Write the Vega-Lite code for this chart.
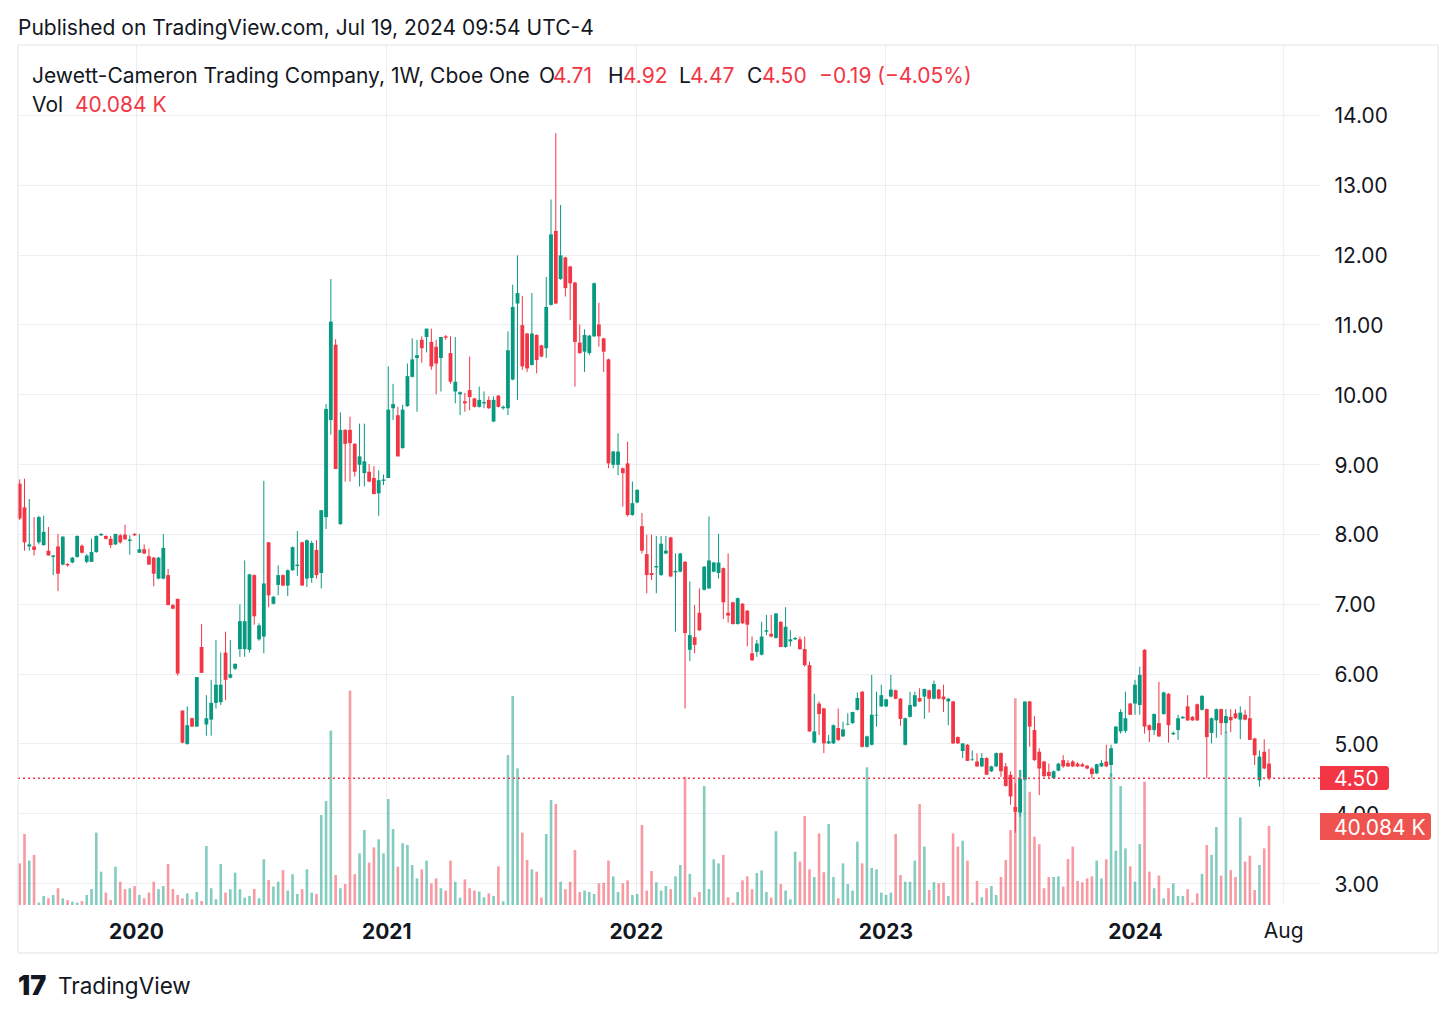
{
  "$schema": "https://vega.github.io/schema/vega-lite/v6.json",
  "width": 1302,
  "height": 860,
  "autosize": "none",
  "padding": {"left": 18, "top": 45, "right": 136, "bottom": 111},
  "background": "white",
  "config": {"view": {"stroke": null}, "font": "Inter", "axis": {"labelFont": "Inter"}, "text": {"font": "Inter"}, "scale": {"continuousPadding": 0}},
  "datasets": {
    "w": [
      {"d":"2019-07-15","o":8.72,"h":8.78,"l":8.20,"c":8.22,"v":21.1},
      {"d":"2019-07-22","o":8.38,"h":8.79,"l":7.76,"c":7.88,"v":36.0},
      {"d":"2019-07-29","o":7.82,"h":8.50,"l":7.76,"c":7.85,"v":22.5},
      {"d":"2019-08-05","o":7.82,"h":8.24,"l":7.69,"c":7.77,"v":25.4},
      {"d":"2019-08-12","o":7.88,"h":8.26,"l":7.85,"c":8.24,"v":1.2},
      {"d":"2019-08-19","o":7.84,"h":8.26,"l":7.83,"c":8.03,"v":4.6},
      {"d":"2019-08-26","o":7.76,"h":8.10,"l":7.69,"c":7.69,"v":3.4},
      {"d":"2019-09-02","o":7.67,"h":7.70,"l":7.41,"c":7.69,"v":5.1},
      {"d":"2019-09-09","o":7.82,"h":8.00,"l":7.18,"c":7.43,"v":8.5},
      {"d":"2019-09-16","o":7.56,"h":7.97,"l":7.55,"c":7.96,"v":3.4},
      {"d":"2019-09-23","o":7.57,"h":7.58,"l":7.53,"c":7.55,"v":2.5},
      {"d":"2019-09-30","o":7.59,"h":7.67,"l":7.58,"c":7.66,"v":1.7},
      {"d":"2019-10-07","o":7.67,"h":7.98,"l":7.66,"c":7.97,"v":1.2},
      {"d":"2019-10-14","o":7.83,"h":7.85,"l":7.72,"c":7.73,"v":2.0},
      {"d":"2019-10-21","o":7.60,"h":7.71,"l":7.58,"c":7.69,"v":5.1},
      {"d":"2019-10-28","o":7.60,"h":7.93,"l":7.60,"c":7.74,"v":8.1},
      {"d":"2019-11-04","o":7.74,"h":7.98,"l":7.73,"c":7.97,"v":36.7},
      {"d":"2019-11-11","o":7.98,"h":8.01,"l":7.97,"c":8.00,"v":16.9},
      {"d":"2019-11-18","o":7.97,"h":7.98,"l":7.92,"c":7.93,"v":6.3},
      {"d":"2019-11-25","o":7.93,"h":7.97,"l":7.80,"c":7.84,"v":2.5},
      {"d":"2019-12-02","o":7.85,"h":8.00,"l":7.84,"c":8.00,"v":19.4},
      {"d":"2019-12-09","o":7.98,"h":8.00,"l":7.86,"c":7.88,"v":11.8},
      {"d":"2019-12-16","o":7.99,"h":8.13,"l":7.92,"c":7.92,"v":8.0},
      {"d":"2019-12-23","o":7.90,"h":7.98,"l":7.70,"c":7.92,"v":8.5},
      {"d":"2019-12-30","o":8.00,"h":8.01,"l":7.97,"c":7.98,"v":9.6},
      {"d":"2020-01-06","o":7.73,"h":8.00,"l":7.73,"c":7.78,"v":5.1},
      {"d":"2020-01-13","o":7.78,"h":7.85,"l":7.71,"c":7.72,"v":3.4},
      {"d":"2020-01-20","o":7.68,"h":7.79,"l":7.56,"c":7.56,"v":6.3},
      {"d":"2020-01-27","o":7.66,"h":7.67,"l":7.25,"c":7.43,"v":11.8},
      {"d":"2020-02-03","o":7.36,"h":7.67,"l":7.35,"c":7.66,"v":8.0},
      {"d":"2020-02-10","o":7.36,"h":8.00,"l":7.35,"c":7.80,"v":9.6},
      {"d":"2020-02-17","o":7.41,"h":7.50,"l":6.98,"c":6.98,"v":20.8},
      {"d":"2020-02-24","o":6.98,"h":7.00,"l":6.92,"c":6.93,"v":8.1},
      {"d":"2020-03-02","o":7.07,"h":7.07,"l":5.97,"c":6.00,"v":5.1},
      {"d":"2020-03-09","o":5.47,"h":5.47,"l":5.00,"c":5.01,"v":3.4},
      {"d":"2020-03-16","o":4.99,"h":5.53,"l":4.98,"c":5.26,"v":5.9},
      {"d":"2020-03-23","o":5.36,"h":5.37,"l":5.24,"c":5.24,"v":2.9},
      {"d":"2020-03-30","o":5.24,"h":5.95,"l":5.24,"c":5.95,"v":6.6},
      {"d":"2020-04-06","o":6.38,"h":6.71,"l":6.01,"c":6.01,"v":2.0},
      {"d":"2020-04-13","o":5.27,"h":5.69,"l":5.11,"c":5.36,"v":29.9},
      {"d":"2020-04-20","o":5.34,"h":5.91,"l":5.11,"c":5.58,"v":8.5},
      {"d":"2020-04-27","o":5.58,"h":6.48,"l":5.50,"c":5.84,"v":2.9},
      {"d":"2020-05-04","o":5.59,"h":6.30,"l":5.55,"c":5.84,"v":20.8},
      {"d":"2020-05-11","o":6.30,"h":6.60,"l":5.62,"c":5.91,"v":6.3},
      {"d":"2020-05-18","o":5.94,"h":6.48,"l":5.93,"c":5.99,"v":8.0},
      {"d":"2020-05-25","o":6.07,"h":6.14,"l":6.05,"c":6.14,"v":16.4},
      {"d":"2020-06-01","o":6.35,"h":6.99,"l":6.24,"c":6.75,"v":8.0},
      {"d":"2020-06-08","o":6.35,"h":7.62,"l":6.24,"c":6.75,"v":3.7},
      {"d":"2020-06-15","o":6.34,"h":7.43,"l":6.30,"c":7.42,"v":4.6},
      {"d":"2020-06-22","o":7.41,"h":7.42,"l":6.70,"c":6.82,"v":8.1},
      {"d":"2020-06-29","o":6.49,"h":6.72,"l":6.47,"c":6.69,"v":3.4},
      {"d":"2020-07-06","o":6.53,"h":8.76,"l":6.29,"c":7.29,"v":23.2},
      {"d":"2020-07-13","o":7.88,"h":7.88,"l":6.95,"c":7.12,"v":12.7},
      {"d":"2020-07-20","o":7.00,"h":7.11,"l":6.99,"c":7.10,"v":9.3},
      {"d":"2020-07-27","o":7.27,"h":7.55,"l":7.12,"c":7.41,"v":11.8},
      {"d":"2020-08-03","o":7.41,"h":7.42,"l":7.25,"c":7.26,"v":17.7},
      {"d":"2020-08-10","o":7.26,"h":7.49,"l":7.11,"c":7.48,"v":7.3},
      {"d":"2020-08-17","o":7.48,"h":7.82,"l":7.47,"c":7.81,"v":15.6},
      {"d":"2020-08-24","o":7.54,"h":8.04,"l":7.40,"c":7.56,"v":5.6},
      {"d":"2020-08-31","o":7.88,"h":7.89,"l":7.26,"c":7.26,"v":8.0},
      {"d":"2020-09-07","o":7.36,"h":7.92,"l":7.24,"c":7.91,"v":18.1},
      {"d":"2020-09-14","o":7.37,"h":7.90,"l":7.30,"c":7.87,"v":6.3},
      {"d":"2020-09-21","o":7.77,"h":7.91,"l":7.36,"c":7.41,"v":5.6},
      {"d":"2020-09-28","o":7.44,"h":8.34,"l":7.22,"c":8.34,"v":45.6},
      {"d":"2020-10-05","o":8.24,"h":9.86,"l":8.07,"c":9.79,"v":52.7},
      {"d":"2020-10-12","o":9.63,"h":11.65,"l":9.42,"c":11.04,"v":88.4},
      {"d":"2020-10-19","o":10.71,"h":10.79,"l":8.93,"c":8.93,"v":15.2},
      {"d":"2020-10-26","o":8.14,"h":9.74,"l":8.13,"c":9.49,"v":8.5},
      {"d":"2020-11-02","o":9.49,"h":9.50,"l":8.75,"c":9.29,"v":10.6},
      {"d":"2020-11-09","o":9.49,"h":9.68,"l":8.75,"c":9.30,"v":108.7},
      {"d":"2020-11-16","o":9.29,"h":9.30,"l":8.82,"c":8.89,"v":15.6},
      {"d":"2020-11-23","o":8.99,"h":9.58,"l":8.68,"c":9.11,"v":26.2},
      {"d":"2020-11-30","o":8.87,"h":9.58,"l":8.68,"c":9.04,"v":38.0},
      {"d":"2020-12-07","o":8.89,"h":9.00,"l":8.74,"c":8.75,"v":21.5},
      {"d":"2020-12-14","o":8.80,"h":8.97,"l":8.57,"c":8.57,"v":29.2},
      {"d":"2020-12-21","o":8.58,"h":8.91,"l":8.26,"c":8.77,"v":33.3},
      {"d":"2020-12-28","o":8.76,"h":8.85,"l":8.70,"c":8.78,"v":26.2},
      {"d":"2021-01-04","o":8.80,"h":10.40,"l":8.80,"c":9.78,"v":53.7},
      {"d":"2021-01-11","o":9.80,"h":10.15,"l":9.63,"c":9.86,"v":38.5},
      {"d":"2021-01-18","o":9.70,"h":9.82,"l":9.11,"c":9.11,"v":19.4},
      {"d":"2021-01-25","o":9.23,"h":9.85,"l":9.22,"c":9.78,"v":31.3},
      {"d":"2021-02-01","o":9.83,"h":10.44,"l":9.82,"c":10.26,"v":30.4},
      {"d":"2021-02-08","o":10.25,"h":10.80,"l":10.24,"c":10.50,"v":20.3},
      {"d":"2021-02-15","o":10.52,"h":10.78,"l":9.75,"c":10.56,"v":13.5},
      {"d":"2021-02-22","o":10.78,"h":10.83,"l":10.45,"c":10.66,"v":18.1},
      {"d":"2021-03-01","o":10.82,"h":10.94,"l":10.60,"c":10.94,"v":22.5},
      {"d":"2021-03-08","o":10.75,"h":10.94,"l":10.35,"c":10.40,"v":11.0},
      {"d":"2021-03-15","o":10.68,"h":10.78,"l":10.00,"c":10.44,"v":13.5},
      {"d":"2021-03-22","o":10.52,"h":10.82,"l":10.04,"c":10.82,"v":8.5},
      {"d":"2021-03-29","o":10.83,"h":10.85,"l":10.78,"c":10.81,"v":7.3},
      {"d":"2021-04-05","o":10.59,"h":10.83,"l":10.15,"c":10.18,"v":22.5},
      {"d":"2021-04-12","o":10.04,"h":10.82,"l":9.87,"c":10.18,"v":11.8},
      {"d":"2021-04-19","o":10.00,"h":10.04,"l":9.70,"c":10.03,"v":3.7},
      {"d":"2021-04-26","o":9.90,"h":10.02,"l":9.75,"c":9.87,"v":13.0},
      {"d":"2021-05-03","o":10.06,"h":10.54,"l":9.77,"c":9.96,"v":8.5},
      {"d":"2021-05-10","o":9.94,"h":9.95,"l":9.81,"c":9.82,"v":7.3},
      {"d":"2021-05-17","o":9.82,"h":10.11,"l":9.81,"c":9.92,"v":6.8},
      {"d":"2021-05-24","o":9.87,"h":10.04,"l":9.80,"c":9.89,"v":3.9},
      {"d":"2021-05-31","o":9.92,"h":9.97,"l":9.79,"c":9.80,"v":5.9},
      {"d":"2021-06-07","o":9.61,"h":9.97,"l":9.60,"c":9.92,"v":4.6},
      {"d":"2021-06-14","o":9.98,"h":9.99,"l":9.81,"c":9.82,"v":19.6},
      {"d":"2021-06-21","o":9.80,"h":9.84,"l":9.78,"c":9.82,"v":1.9},
      {"d":"2021-06-28","o":9.80,"h":10.90,"l":9.70,"c":10.63,"v":76.0},
      {"d":"2021-07-05","o":10.21,"h":11.57,"l":10.20,"c":11.25,"v":106.0},
      {"d":"2021-07-12","o":11.30,"h":11.99,"l":9.92,"c":11.45,"v":69.3},
      {"d":"2021-07-19","o":10.99,"h":11.41,"l":10.35,"c":10.40,"v":36.7},
      {"d":"2021-07-26","o":10.87,"h":10.88,"l":10.32,"c":10.37,"v":22.8},
      {"d":"2021-08-02","o":10.42,"h":11.45,"l":10.41,"c":10.87,"v":18.1},
      {"d":"2021-08-09","o":10.85,"h":10.86,"l":10.30,"c":10.49,"v":16.9},
      {"d":"2021-08-16","o":10.70,"h":10.71,"l":10.53,"c":10.54,"v":3.7},
      {"d":"2021-08-23","o":10.66,"h":11.68,"l":10.52,"c":11.25,"v":36.0},
      {"d":"2021-08-30","o":11.28,"h":12.79,"l":11.27,"c":12.29,"v":53.2},
      {"d":"2021-09-06","o":12.34,"h":13.74,"l":11.29,"c":11.30,"v":51.2},
      {"d":"2021-09-13","o":11.65,"h":12.71,"l":11.64,"c":11.99,"v":11.8},
      {"d":"2021-09-20","o":11.96,"h":11.97,"l":11.40,"c":11.52,"v":8.0},
      {"d":"2021-09-27","o":11.83,"h":11.84,"l":11.06,"c":11.59,"v":11.8},
      {"d":"2021-10-04","o":11.60,"h":11.61,"l":10.11,"c":10.75,"v":27.9},
      {"d":"2021-10-11","o":10.74,"h":11.00,"l":10.58,"c":10.59,"v":6.6},
      {"d":"2021-10-18","o":10.61,"h":10.93,"l":10.32,"c":10.85,"v":7.3},
      {"d":"2021-10-25","o":10.59,"h":10.85,"l":10.56,"c":10.84,"v":6.6},
      {"d":"2021-11-01","o":10.83,"h":11.60,"l":10.82,"c":11.59,"v":5.6},
      {"d":"2021-11-08","o":11.00,"h":11.31,"l":10.68,"c":10.83,"v":11.0},
      {"d":"2021-11-15","o":10.80,"h":10.81,"l":10.32,"c":10.61,"v":11.3},
      {"d":"2021-11-22","o":10.50,"h":10.51,"l":8.94,"c":9.01,"v":22.5},
      {"d":"2021-11-29","o":8.99,"h":9.19,"l":8.94,"c":9.18,"v":14.5},
      {"d":"2021-12-06","o":8.99,"h":9.44,"l":8.84,"c":9.18,"v":6.6},
      {"d":"2021-12-13","o":8.94,"h":8.95,"l":8.39,"c":8.87,"v":11.0},
      {"d":"2021-12-20","o":9.01,"h":9.32,"l":8.25,"c":8.27,"v":12.5},
      {"d":"2021-12-27","o":8.27,"h":8.75,"l":8.26,"c":8.44,"v":5.1},
      {"d":"2022-01-03","o":8.45,"h":8.64,"l":8.44,"c":8.63,"v":5.6},
      {"d":"2022-01-10","o":8.11,"h":8.30,"l":7.72,"c":7.76,"v":40.6},
      {"d":"2022-01-17","o":7.71,"h":7.99,"l":7.15,"c":7.41,"v":7.3},
      {"d":"2022-01-24","o":7.44,"h":7.99,"l":7.34,"c":7.41,"v":17.2},
      {"d":"2022-01-31","o":7.52,"h":7.97,"l":7.15,"c":7.54,"v":11.5},
      {"d":"2022-02-07","o":7.41,"h":7.97,"l":7.40,"c":7.86,"v":7.3},
      {"d":"2022-02-14","o":7.72,"h":7.97,"l":7.71,"c":7.76,"v":9.6},
      {"d":"2022-02-21","o":7.95,"h":7.96,"l":7.38,"c":7.39,"v":8.0},
      {"d":"2022-02-28","o":7.45,"h":7.72,"l":6.60,"c":7.47,"v":14.5},
      {"d":"2022-03-07","o":7.46,"h":7.73,"l":7.45,"c":7.72,"v":20.3},
      {"d":"2022-03-14","o":7.60,"h":7.61,"l":5.50,"c":6.58,"v":65.0},
      {"d":"2022-03-21","o":6.34,"h":7.32,"l":6.18,"c":6.55,"v":15.8},
      {"d":"2022-03-28","o":6.52,"h":6.98,"l":6.29,"c":6.41,"v":3.9},
      {"d":"2022-04-04","o":6.87,"h":7.22,"l":6.61,"c":6.62,"v":6.6},
      {"d":"2022-04-11","o":7.20,"h":7.54,"l":7.19,"c":7.53,"v":60.3},
      {"d":"2022-04-18","o":7.22,"h":8.25,"l":7.21,"c":7.62,"v":8.1},
      {"d":"2022-04-25","o":7.46,"h":7.60,"l":7.45,"c":7.59,"v":23.2},
      {"d":"2022-05-02","o":7.44,"h":8.00,"l":7.36,"c":7.59,"v":21.1},
      {"d":"2022-05-09","o":7.51,"h":7.52,"l":6.78,"c":7.02,"v":25.4},
      {"d":"2022-05-16","o":6.87,"h":7.72,"l":6.73,"c":6.83,"v":3.9},
      {"d":"2022-05-23","o":7.02,"h":7.03,"l":6.70,"c":6.71,"v":1.2},
      {"d":"2022-05-30","o":6.71,"h":7.09,"l":6.70,"c":7.08,"v":6.6},
      {"d":"2022-06-06","o":7.00,"h":7.01,"l":6.71,"c":6.72,"v":12.5},
      {"d":"2022-06-13","o":6.90,"h":6.91,"l":6.39,"c":6.70,"v":14.5},
      {"d":"2022-06-20","o":6.29,"h":6.53,"l":6.18,"c":6.19,"v":8.0},
      {"d":"2022-06-27","o":6.31,"h":6.48,"l":6.24,"c":6.43,"v":16.2},
      {"d":"2022-07-04","o":6.27,"h":6.74,"l":6.26,"c":6.53,"v":17.6},
      {"d":"2022-07-11","o":6.60,"h":6.84,"l":6.55,"c":6.62,"v":6.6},
      {"d":"2022-07-18","o":6.57,"h":6.84,"l":6.52,"c":6.53,"v":3.7},
      {"d":"2022-07-25","o":6.51,"h":6.87,"l":6.50,"c":6.86,"v":37.4},
      {"d":"2022-08-01","o":6.74,"h":6.75,"l":6.38,"c":6.38,"v":10.6},
      {"d":"2022-08-08","o":6.38,"h":6.95,"l":6.37,"c":6.67,"v":7.3},
      {"d":"2022-08-15","o":6.46,"h":6.62,"l":6.39,"c":6.49,"v":2.9},
      {"d":"2022-08-22","o":6.49,"h":6.52,"l":6.48,"c":6.51,"v":27.0},
      {"d":"2022-08-29","o":6.49,"h":6.53,"l":6.34,"c":6.35,"v":22.0},
      {"d":"2022-09-05","o":6.35,"h":6.53,"l":6.10,"c":6.12,"v":45.1},
      {"d":"2022-09-12","o":6.12,"h":6.17,"l":5.17,"c":5.17,"v":18.1},
      {"d":"2022-09-19","o":5.01,"h":5.71,"l":5.00,"c":5.17,"v":14.2},
      {"d":"2022-09-26","o":5.57,"h":5.60,"l":5.12,"c":5.42,"v":36.3},
      {"d":"2022-10-03","o":5.50,"h":5.51,"l":4.86,"c":5.00,"v":16.6},
      {"d":"2022-10-10","o":5.00,"h":5.12,"l":4.99,"c":5.03,"v":41.1},
      {"d":"2022-10-17","o":5.00,"h":5.27,"l":4.99,"c":5.26,"v":14.2},
      {"d":"2022-10-24","o":5.22,"h":5.50,"l":5.03,"c":5.05,"v":3.4},
      {"d":"2022-10-31","o":5.10,"h":5.31,"l":5.09,"c":5.20,"v":21.1},
      {"d":"2022-11-07","o":5.27,"h":5.43,"l":5.26,"c":5.28,"v":10.6},
      {"d":"2022-11-14","o":5.29,"h":5.45,"l":5.28,"c":5.45,"v":7.3},
      {"d":"2022-11-21","o":5.48,"h":5.73,"l":5.47,"c":5.65,"v":32.1},
      {"d":"2022-11-28","o":5.74,"h":5.75,"l":4.94,"c":4.95,"v":21.1},
      {"d":"2022-12-05","o":4.95,"h":5.11,"l":4.94,"c":5.10,"v":69.8},
      {"d":"2022-12-12","o":4.98,"h":5.98,"l":4.97,"c":5.41,"v":18.8},
      {"d":"2022-12-19","o":5.40,"h":5.74,"l":5.24,"c":5.41,"v":18.1},
      {"d":"2022-12-26","o":5.53,"h":5.84,"l":5.52,"c":5.69,"v":6.3},
      {"d":"2023-01-02","o":5.53,"h":5.64,"l":5.52,"c":5.63,"v":5.1},
      {"d":"2023-01-09","o":5.67,"h":5.98,"l":5.66,"c":5.77,"v":6.3},
      {"d":"2023-01-16","o":5.76,"h":5.77,"l":5.63,"c":5.64,"v":36.0},
      {"d":"2023-01-23","o":5.64,"h":5.65,"l":5.25,"c":5.35,"v":15.2},
      {"d":"2023-01-30","o":4.98,"h":5.37,"l":4.97,"c":5.36,"v":11.8},
      {"d":"2023-02-06","o":5.38,"h":5.74,"l":5.37,"c":5.55,"v":11.8},
      {"d":"2023-02-13","o":5.53,"h":5.74,"l":5.52,"c":5.69,"v":22.5},
      {"d":"2023-02-20","o":5.65,"h":5.79,"l":5.59,"c":5.60,"v":51.2},
      {"d":"2023-02-27","o":5.67,"h":5.78,"l":5.35,"c":5.78,"v":29.6},
      {"d":"2023-03-06","o":5.76,"h":5.77,"l":5.44,"c":5.64,"v":7.6},
      {"d":"2023-03-13","o":5.64,"h":5.90,"l":5.63,"c":5.85,"v":11.6},
      {"d":"2023-03-20","o":5.77,"h":5.78,"l":5.63,"c":5.64,"v":11.0},
      {"d":"2023-03-27","o":5.67,"h":5.84,"l":5.45,"c":5.63,"v":11.3},
      {"d":"2023-04-03","o":5.60,"h":5.65,"l":5.26,"c":5.64,"v":4.6},
      {"d":"2023-04-10","o":5.60,"h":5.61,"l":4.99,"c":5.00,"v":36.3},
      {"d":"2023-04-17","o":5.09,"h":5.10,"l":4.99,"c":5.00,"v":29.6},
      {"d":"2023-04-24","o":4.89,"h":5.00,"l":4.79,"c":5.00,"v":32.6},
      {"d":"2023-05-01","o":4.98,"h":4.99,"l":4.75,"c":4.75,"v":22.5},
      {"d":"2023-05-08","o":4.76,"h":4.90,"l":4.75,"c":4.77,"v":1.2},
      {"d":"2023-05-15","o":4.74,"h":4.86,"l":4.66,"c":4.67,"v":12.2},
      {"d":"2023-05-22","o":4.67,"h":4.86,"l":4.66,"c":4.79,"v":3.9},
      {"d":"2023-05-29","o":4.79,"h":4.80,"l":4.55,"c":4.55,"v":8.5},
      {"d":"2023-06-05","o":4.60,"h":4.68,"l":4.59,"c":4.67,"v":9.6},
      {"d":"2023-06-12","o":4.67,"h":4.87,"l":4.66,"c":4.86,"v":5.1},
      {"d":"2023-06-19","o":4.86,"h":4.87,"l":4.52,"c":4.60,"v":14.2},
      {"d":"2023-06-26","o":4.67,"h":4.72,"l":4.38,"c":4.39,"v":22.8},
      {"d":"2023-07-03","o":4.55,"h":4.60,"l":4.12,"c":4.24,"v":38.0},
      {"d":"2023-07-10","o":4.09,"h":4.43,"l":3.72,"c":4.02,"v":104.8},
      {"d":"2023-07-17","o":4.01,"h":4.62,"l":3.95,"c":4.49,"v":68.4},
      {"d":"2023-07-24","o":4.48,"h":5.60,"l":4.47,"c":5.60,"v":63.4},
      {"d":"2023-07-31","o":5.60,"h":5.61,"l":4.95,"c":5.24,"v":57.4},
      {"d":"2023-08-07","o":5.19,"h":5.39,"l":4.75,"c":4.76,"v":34.6},
      {"d":"2023-08-14","o":4.88,"h":4.93,"l":4.26,"c":4.64,"v":30.8},
      {"d":"2023-08-21","o":4.74,"h":4.75,"l":4.52,"c":4.53,"v":8.5},
      {"d":"2023-08-28","o":4.59,"h":4.71,"l":4.50,"c":4.53,"v":14.2},
      {"d":"2023-09-04","o":4.50,"h":4.61,"l":4.49,"c":4.60,"v":14.2},
      {"d":"2023-09-11","o":4.61,"h":4.72,"l":4.60,"c":4.71,"v":14.5},
      {"d":"2023-09-18","o":4.76,"h":4.83,"l":4.65,"c":4.67,"v":9.3},
      {"d":"2023-09-25","o":4.72,"h":4.76,"l":4.66,"c":4.67,"v":23.3},
      {"d":"2023-10-02","o":4.74,"h":4.76,"l":4.66,"c":4.67,"v":29.6},
      {"d":"2023-10-09","o":4.71,"h":4.73,"l":4.66,"c":4.67,"v":12.2},
      {"d":"2023-10-16","o":4.70,"h":4.72,"l":4.66,"c":4.67,"v":11.5},
      {"d":"2023-10-23","o":4.68,"h":4.69,"l":4.63,"c":4.64,"v":13.5},
      {"d":"2023-10-30","o":4.64,"h":4.66,"l":4.50,"c":4.56,"v":14.5},
      {"d":"2023-11-06","o":4.57,"h":4.71,"l":4.56,"c":4.70,"v":22.5},
      {"d":"2023-11-13","o":4.67,"h":4.76,"l":4.66,"c":4.72,"v":13.5},
      {"d":"2023-11-20","o":4.74,"h":4.98,"l":4.66,"c":4.67,"v":23.2},
      {"d":"2023-11-27","o":4.69,"h":4.98,"l":4.52,"c":4.93,"v":66.8},
      {"d":"2023-12-04","o":5.00,"h":5.25,"l":4.99,"c":5.24,"v":27.5},
      {"d":"2023-12-11","o":5.17,"h":5.49,"l":5.14,"c":5.45,"v":60.3},
      {"d":"2023-12-18","o":5.18,"h":5.74,"l":5.15,"c":5.36,"v":28.7},
      {"d":"2023-12-25","o":5.57,"h":5.58,"l":5.41,"c":5.41,"v":19.6},
      {"d":"2024-01-01","o":5.57,"h":5.91,"l":5.41,"c":5.84,"v":11.8},
      {"d":"2024-01-08","o":5.55,"h":6.10,"l":5.41,"c":5.98,"v":30.9},
      {"d":"2024-01-15","o":6.34,"h":6.35,"l":5.14,"c":5.24,"v":62.5},
      {"d":"2024-01-22","o":5.26,"h":5.27,"l":5.02,"c":5.19,"v":16.9},
      {"d":"2024-01-29","o":5.19,"h":5.43,"l":5.12,"c":5.42,"v":8.5},
      {"d":"2024-02-05","o":5.29,"h":5.88,"l":5.09,"c":5.10,"v":14.9},
      {"d":"2024-02-12","o":5.42,"h":5.74,"l":5.41,"c":5.73,"v":3.4},
      {"d":"2024-02-19","o":5.71,"h":5.72,"l":5.01,"c":5.26,"v":8.5},
      {"d":"2024-02-26","o":5.13,"h":5.17,"l":5.12,"c":5.15,"v":11.0},
      {"d":"2024-03-04","o":5.19,"h":5.41,"l":5.05,"c":5.36,"v":4.6},
      {"d":"2024-03-11","o":5.36,"h":5.39,"l":5.35,"c":5.38,"v":4.6},
      {"d":"2024-03-18","o":5.53,"h":5.69,"l":5.32,"c":5.33,"v":8.0},
      {"d":"2024-03-25","o":5.38,"h":5.39,"l":5.32,"c":5.33,"v":1.2},
      {"d":"2024-04-01","o":5.56,"h":5.57,"l":5.32,"c":5.33,"v":5.9},
      {"d":"2024-04-08","o":5.48,"h":5.69,"l":5.47,"c":5.68,"v":15.8},
      {"d":"2024-04-15","o":5.49,"h":5.50,"l":4.50,"c":5.09,"v":30.4},
      {"d":"2024-04-22","o":5.15,"h":5.37,"l":5.00,"c":5.36,"v":25.4},
      {"d":"2024-04-29","o":5.33,"h":5.50,"l":5.08,"c":5.49,"v":39.5},
      {"d":"2024-05-06","o":5.49,"h":5.50,"l":5.12,"c":5.29,"v":14.9},
      {"d":"2024-05-13","o":5.29,"h":5.49,"l":5.15,"c":5.39,"v":88.0},
      {"d":"2024-05-20","o":5.38,"h":5.49,"l":5.16,"c":5.33,"v":17.7},
      {"d":"2024-05-27","o":5.43,"h":5.49,"l":5.35,"c":5.36,"v":14.2},
      {"d":"2024-06-03","o":5.34,"h":5.53,"l":5.06,"c":5.44,"v":44.4},
      {"d":"2024-06-10","o":5.41,"h":5.48,"l":5.33,"c":5.34,"v":22.0},
      {"d":"2024-06-17","o":5.36,"h":5.68,"l":5.05,"c":5.05,"v":25.0},
      {"d":"2024-06-24","o":5.07,"h":5.08,"l":4.69,"c":4.83,"v":7.6},
      {"d":"2024-07-01","o":4.47,"h":4.90,"l":4.38,"c":4.81,"v":20.3},
      {"d":"2024-07-08","o":4.88,"h":5.06,"l":4.63,"c":4.64,"v":28.7},
      {"d":"2024-07-15","o":4.71,"h":4.92,"l":4.47,"c":4.50,"v":40.084}
    ]
  },
  "data": {"name": "w"},
  "layer": [
    {
      "mark": {"type": "bar", "width": 2.6, "opacity": 0.5},
      "encoding": {
        "x": {"field": "d", "type": "temporal", "scale": {"type": "utc", "domain": [1562932800000, 1727444060970], "padding": 0},
          "axis": {"values": [{"year": 2020, "month": 1, "date": 1, "utc": true}, {"year": 2021, "month": 1, "date": 1, "utc": true}, {"year": 2022, "month": 1, "date": 1, "utc": true}, {"year": 2023, "month": 1, "date": 1, "utc": true}, {"year": 2024, "month": 1, "date": 1, "utc": true}],
            "format": "%Y", "labelFontWeight": "bold",
            "grid": true, "gridColor": "#eceef2", "domain": false, "ticks": false,
            "labelFontSize": 21, "labelColor": "#131722", "labelPadding": 16, "title": null}},
        "y": {"field": "v", "type": "quantitative", "scale": {"domain": [0, 436], "nice": false, "zero": true}, "axis": null, "stack": null},
        "color": {"condition": {"test": "datum.c >= datum.o", "value": "#089981"}, "value": "#f23645"}
      }
    },
    {
      "data": {"values": [{}]},
      "mark": {"type": "rule", "color": "#eceef2", "strokeWidth": 1},
      "encoding": {"x": {"datum": 1722849458205, "type": "temporal"}}
    },
    {
      "mark": {"type": "rule", "strokeWidth": 1},
      "encoding": {
        "x": {"field": "d", "type": "temporal"},
        "y": {"field": "l", "type": "quantitative", "scale": {"domain": [2.6849, 15.0026], "nice": false, "zero": false},
          "axis": {"orient": "right", "values": [3,4,5,6,7,8,9,10,11,12,13,14], "format": ".2f",
            "grid": true, "gridColor": "#eceef2", "domain": false, "ticks": false, "labelOffset": 2,
            "labelFontSize": 21, "labelColor": "#131722", "labelPadding": 14, "title": null}},
        "y2": {"field": "h"},
        "color": {"condition": {"test": "datum.c >= datum.o", "value": "#089981"}, "value": "#f23645"}
      }
    },
    {
      "mark": {"type": "bar", "width": 3.8},
      "encoding": {
        "x": {"field": "d", "type": "temporal"},
        "y": {"field": "o", "type": "quantitative", "scale": {"domain": [2.6849, 15.0026], "nice": false, "zero": false}, "axis": null},
        "y2": {"field": "c"},
        "color": {"condition": {"test": "datum.c >= datum.o", "value": "#089981"}, "value": "#f23645"}
      }
    },
    {
      "data": {"values": [{}]},
      "mark": {"type": "rule", "color": "#f23645", "strokeDash": [2, 3], "strokeWidth": 1.5},
      "encoding": {"y": {"datum": 4.5, "scale": {"domain": [2.6849, 15.0026], "nice": false, "zero": false}, "axis": null}}
    },
    {
      "data": {"values": [{}]},
      "mark": {"type": "rect", "color": "#f23645", "cornerRadiusTopRight": 3, "cornerRadiusBottomRight": 3},
      "encoding": {
        "x": {"datum": 1727444060970, "type": "temporal"},
        "x2": {"datum": 1736162399685},
        "y": {"datum": 4.676, "scale": {"domain": [2.6849, 15.0026], "nice": false, "zero": false}, "axis": null},
        "y2": {"datum": 4.332}
      }
    },
    {
      "data": {"values": [{}]},
      "mark": {"type": "rect", "color": "#ef5350", "cornerRadiusTopRight": 3, "cornerRadiusBottomRight": 3},
      "encoding": {
        "x": {"datum": 1727444060970, "type": "temporal"},
        "x2": {"datum": 1741469214555},
        "y": {"datum": 4.003, "scale": {"domain": [2.6849, 15.0026], "nice": false, "zero": false}, "axis": null},
        "y2": {"datum": 3.616}
      }
    },
    {
      "data": {"values": [{}]},
      "mark": {"type": "text", "text": "4.50", "color": "white", "fontSize": 21, "align": "left", "baseline": "middle"},
      "encoding": {"x": {"datum": 1729212999260, "type": "temporal"}, "y": {"datum": 4.475, "scale": {"domain": [2.6849, 15.0026], "nice": false, "zero": false}, "axis": null}}
    },
    {
      "data": {"values": [{}]},
      "mark": {"type": "text", "text": "40.084 K", "color": "white", "fontSize": 21, "align": "left", "baseline": "middle"},
      "encoding": {"x": {"datum": 1729212999260, "type": "temporal"}, "y": {"datum": 3.78, "scale": {"domain": [2.6849, 15.0026], "nice": false, "zero": false}, "axis": null}}
    },
    {
      "data": {"values": [{}]},
      "mark": {"type": "text", "text": "Aug", "color": "#131722", "fontSize": 21, "align": "center", "baseline": "middle"},
      "encoding": {"x": {"datum": 1722849458205, "type": "temporal"}, "y": {"datum": 2.299, "scale": {"domain": [2.6849, 15.0026], "nice": false, "zero": false}, "axis": null}}
    },
    {
      "data": {"values": [{}]},
      "mark": {"type": "text", "text": "Published on TradingView.com, Jul 19, 2024 09:54 UTC-4", "color": "#131722", "fontSize": 21, "align": "left", "baseline": "middle"},
      "encoding": {"x": {"datum": 1562932800000, "type": "temporal"}, "y": {"datum": 15.231, "scale": {"domain": [2.6849, 15.0026], "nice": false, "zero": false}, "axis": null}}
    },
    {
      "data": {"values": [{}]},
      "mark": {"type": "text", "text": "Jewett-Cameron Trading Company, 1W, Cboe One", "color": "#131722", "fontSize": 21, "align": "left", "baseline": "middle"},
      "encoding": {"x": {"datum": 1564701738290, "type": "temporal"}, "y": {"datum": 14.544, "scale": {"domain": [2.6849, 15.0026], "nice": false, "zero": false}, "axis": null}}
    },
    {
      "data": {"values": [{}]},
      "mark": {"type": "text", "text": "O", "color": "#131722", "fontSize": 21, "align": "left", "baseline": "middle"},
      "encoding": {"x": {"datum": 1628762574935, "type": "temporal"}, "y": {"datum": 14.544, "scale": {"domain": [2.6849, 15.0026], "nice": false, "zero": false}, "axis": null}}
    },
    {
      "data": {"values": [{}]},
      "mark": {"type": "text", "text": "4.71", "color": "#f23645", "fontSize": 21, "align": "left", "baseline": "middle"},
      "encoding": {"x": {"datum": 1630531513225, "type": "temporal"}, "y": {"datum": 14.544, "scale": {"domain": [2.6849, 15.0026], "nice": false, "zero": false}, "axis": null}}
    },
    {
      "data": {"values": [{}]},
      "mark": {"type": "text", "text": "H", "color": "#131722", "fontSize": 21, "align": "left", "baseline": "middle"},
      "encoding": {"x": {"datum": 1637480913650, "type": "temporal"}, "y": {"datum": 14.544, "scale": {"domain": [2.6849, 15.0026], "nice": false, "zero": false}, "axis": null}}
    },
    {
      "data": {"values": [{}]},
      "mark": {"type": "text", "text": "4.92", "color": "#f23645", "fontSize": 21, "align": "left", "baseline": "middle"},
      "encoding": {"x": {"datum": 1639376204675, "type": "temporal"}, "y": {"datum": 14.544, "scale": {"domain": [2.6849, 15.0026], "nice": false, "zero": false}, "axis": null}}
    },
    {
      "data": {"values": [{}]},
      "mark": {"type": "text", "text": "L", "color": "#131722", "fontSize": 21, "align": "left", "baseline": "middle"},
      "encoding": {"x": {"datum": 1646451957835, "type": "temporal"}, "y": {"datum": 14.544, "scale": {"domain": [2.6849, 15.0026], "nice": false, "zero": false}, "axis": null}}
    },
    {
      "data": {"values": [{}]},
      "mark": {"type": "text", "text": "4.47", "color": "#f23645", "fontSize": 21, "align": "left", "baseline": "middle"},
      "encoding": {"x": {"datum": 1647841837920, "type": "temporal"}, "y": {"datum": 14.544, "scale": {"domain": [2.6849, 15.0026], "nice": false, "zero": false}, "axis": null}}
    },
    {
      "data": {"values": [{}]},
      "mark": {"type": "text", "text": "C", "color": "#131722", "fontSize": 21, "align": "left", "baseline": "middle"},
      "encoding": {"x": {"datum": 1655043943815, "type": "temporal"}, "y": {"datum": 14.544, "scale": {"domain": [2.6849, 15.0026], "nice": false, "zero": false}, "axis": null}}
    },
    {
      "data": {"values": [{}]},
      "mark": {"type": "text", "text": "4.50", "color": "#f23645", "fontSize": 21, "align": "left", "baseline": "middle"},
      "encoding": {"x": {"datum": 1656939234840, "type": "temporal"}, "y": {"datum": 14.544, "scale": {"domain": [2.6849, 15.0026], "nice": false, "zero": false}, "axis": null}}
    },
    {
      "data": {"values": [{}]},
      "mark": {"type": "text", "text": "−0.19 (−4.05%)", "color": "#f23645", "fontSize": 21, "align": "left", "baseline": "middle"},
      "encoding": {"x": {"datum": 1664141340735, "type": "temporal"}, "y": {"datum": 14.544, "scale": {"domain": [2.6849, 15.0026], "nice": false, "zero": false}, "axis": null}}
    },
    {
      "data": {"values": [{}]},
      "mark": {"type": "text", "text": "Vol", "color": "#131722", "fontSize": 21, "align": "left", "baseline": "middle"},
      "encoding": {"x": {"datum": 1564701738290, "type": "temporal"}, "y": {"datum": 14.129, "scale": {"domain": [2.6849, 15.0026], "nice": false, "zero": false}, "axis": null}}
    },
    {
      "data": {"values": [{}]},
      "mark": {"type": "text", "text": "40.084 K", "color": "#f23645", "fontSize": 21, "align": "left", "baseline": "middle"},
      "encoding": {"x": {"datum": 1570134905895, "type": "temporal"}, "y": {"datum": 14.129, "scale": {"domain": [2.6849, 15.0026], "nice": false, "zero": false}, "axis": null}}
    },
    {
      "data": {"values": [{}]},
      "mark": {"type": "text", "text": "TradingView", "color": "#131722", "fontSize": 22.5, "align": "left", "baseline": "middle"},
      "encoding": {"x": {"datum": 1567986909400, "type": "temporal"}, "y": {"datum": 1.51, "scale": {"domain": [2.6849, 15.0026], "nice": false, "zero": false}, "axis": null}}
    },
    {
      "data": {"values": [{}]},
      "mark": {"type": "text", "text": "17", "color": "#131722", "fontSize": 27, "fontWeight": 900, "align": "left", "baseline": "middle"},
      "encoding": {"x": {"datum": 1562932800000, "type": "temporal"}, "y": {"datum": 1.515, "scale": {"domain": [2.6849, 15.0026], "nice": false, "zero": false}, "axis": null}}
    },
    {
      "data": {"values": [{}]},
      "mark": {"type": "rule", "color": "#e0e3eb", "strokeWidth": 1},
      "encoding": {"x": {"datum": 1562932800000, "type": "temporal"}, "x2": {"datum": 1742353683700}, "y": {"datum": 15.0026, "scale": {"domain": [2.6849, 15.0026], "nice": false, "zero": false}, "axis": null}}
    },
    {
      "data": {"values": [{}]},
      "mark": {"type": "rule", "color": "#e0e3eb", "strokeWidth": 1},
      "encoding": {"x": {"datum": 1562932800000, "type": "temporal"}, "x2": {"datum": 1742353683700}, "y": {"datum": 1.998, "scale": {"domain": [2.6849, 15.0026], "nice": false, "zero": false}, "axis": null}}
    },
    {
      "data": {"values": [{}]},
      "mark": {"type": "rule", "color": "#e0e3eb", "strokeWidth": 1},
      "encoding": {"x": {"datum": 1562932800000, "type": "temporal"}, "y": {"datum": 15.0026, "scale": {"domain": [2.6849, 15.0026], "nice": false, "zero": false}, "axis": null}, "y2": {"datum": 1.998}}
    },
    {
      "data": {"values": [{}]},
      "mark": {"type": "rule", "color": "#e0e3eb", "strokeWidth": 1},
      "encoding": {"x": {"datum": 1742353683700, "type": "temporal"}, "y": {"datum": 15.0026, "scale": {"domain": [2.6849, 15.0026], "nice": false, "zero": false}, "axis": null}, "y2": {"datum": 1.998}}
    }
  ],
  "resolve": {"scale": {"y": "independent"}}
}
